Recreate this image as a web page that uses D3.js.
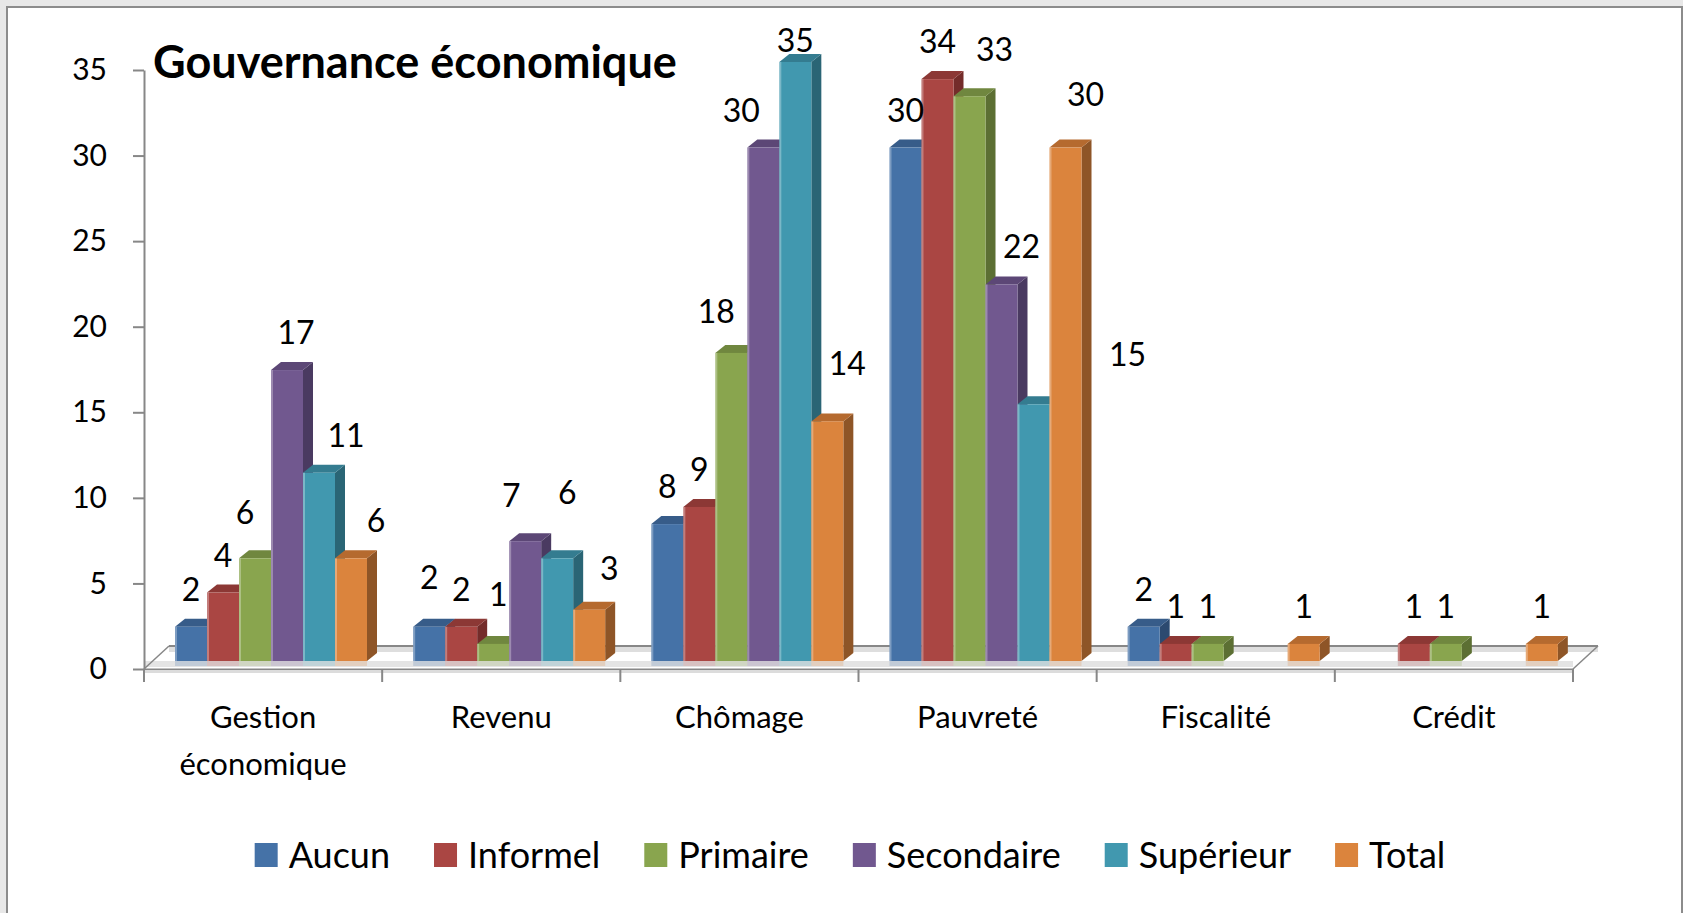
<!DOCTYPE html>
<html>
<head>
<meta charset="utf-8">
<script src="https://cdn.jsdelivr.net/npm/d3@7"></script>
<style>
  html, body { margin: 0; padding: 0; background: #e8e8e8; overflow: hidden; }
  svg { display: block; font-family: Lato, 'Open Sans', sans-serif; }
</style>
</head>
<body>
<div id="chart"></div>
<script>
// --- data ---
const categories = ['Gestion économique', 'Revenu', 'Chômage', 'Pauvreté', 'Fiscalité', 'Crédit'];
const series = ['Aucun', 'Informel', 'Primaire', 'Secondaire', 'Supérieur', 'Total'];
const aucun      = [2, 2, 8, 30, 2, 0];
const informel   = [4, 2, 9, 34, 1, 1];
const primaire   = [6, 1, 18, 33, 1, 1];
const secondaire = [17, 7, 30, 22, 0, 0];
const superieur  = [11, 6, 35, 15, 0, 0];
const total      = [6, 3, 14, 30, 1, 1];
const yTicks = [0, 5, 10, 15, 20, 25, 30, 35];
const chartTitle = 'Gouvernance économique';

const values = [aucun, informel, primaire, secondaire, superieur, total];

// face colours (front, top, side) per series
const frontColors = ['#4572A7', '#AA4643', '#89A54E', '#71588F', '#4198AF', '#DB843D'];
const topColors   = ['#375C89', '#8C3835', '#70873F', '#5C4776', '#347C90', '#B56A2F'];
const sideColors  = ['#2C4A70', '#742C2A', '#5C6F33', '#4A3A61', '#2A6575', '#8E5527'];

// Excel puts the 3D labels a bit off-centre; nudges [dx, dy] in px
const labelNudge = {
  'Gestion économique|Primaire': [-10, -8], 'Gestion économique|Secondaire': [9, 0],
  'Gestion économique|Supérieur': [27, 0], 'Gestion économique|Total': [25, 0],
  'Revenu|Aucun': [0, -12], 'Revenu|Primaire': [5, -12], 'Revenu|Secondaire': [-14, -8],
  'Revenu|Supérieur': [10, -28], 'Revenu|Total': [20, -4],
  'Chômage|Primaire': [-15, -4], 'Chômage|Secondaire': [-22, 0],
  'Chômage|Supérieur': [0, 16], 'Chômage|Total': [20, -20],
  'Pauvreté|Primaire': [25, -9], 'Pauvreté|Secondaire': [20, 0],
  'Pauvreté|Supérieur': [94, -12], 'Pauvreté|Total': [20, -16]
};

const W = 1683, H = 913;
const depth = { dx: 10, dy: 8 };
const axisColor = '#878787';

const svg = d3.select('#chart').append('svg')
  .attr('width', W).attr('height', H);

// frame
svg.append('rect')
  .attr('x', 7).attr('y', 7).attr('width', 1675).attr('height', H + 20)
  .attr('fill', '#fff').attr('stroke', '#8c8c8c').attr('stroke-width', 2);

const y = d3.scaleLinear().domain([0, 35]).range([669, 70]);
const yBar = v => y(v) - 8;

const x0 = d3.scaleBand().domain(categories).range([144, 1573]);
const x1 = d3.scaleBand().domain(series).range([31, 223]);

// floor (drawn behind the bars)
const floor = svg.append('g');
floor.append('rect')
  .attr('x', 144 + 25).attr('y', y(0) - 23).attr('width', 1573 - 144).attr('height', 6)
  .attr('fill', '#dedede');
floor.append('line')
  .attr('x1', 144 + 25).attr('x2', 1573 + 25).attr('y1', y(0) - 23).attr('y2', y(0) - 23)
  .attr('stroke', axisColor).attr('stroke-width', 2);
floor.append('rect')
  .attr('x', 144).attr('y', y(0) - 8).attr('width', 1573 - 144).attr('height', 6)
  .attr('fill', '#e4e4e4');
[144, 1573].forEach(x => {
  floor.append('line')
    .attr('x1', x).attr('y1', y(0)).attr('x2', x + 25).attr('y2', y(0) - 23)
    .attr('stroke', axisColor).attr('stroke-width', 1.5);
});

// bars
const barData = [];
categories.forEach((c, i) => {
  series.forEach((s, j) => {
    barData.push({ cat: c, ser: s, j: j, v: values[j][i] });
  });
});
const bars = svg.append('g').selectAll('g.bar')
  .data(barData.filter(d => d.v > 0))
  .enter().append('g').attr('class', 'bar');

bars.each(function (d) {
  const g = d3.select(this);
  const bx = x0(d.cat) + x1(d.ser);
  const w = x1.bandwidth();
  const top = yBar(d.v), base = yBar(0);
  const { dx, dy } = depth;
  g.append('polygon')
    .attr('points', [[bx + w, top], [bx + w + dx, top - dy], [bx + w + dx, base - dy], [bx + w, base]].join(' '))
    .attr('fill', sideColors[d.j]);
  g.append('polygon')
    .attr('points', [[bx, top], [bx + dx, top - dy], [bx + w + dx, top - dy], [bx + w, top]].join(' '))
    .attr('fill', topColors[d.j]);
  g.append('rect')
    .attr('x', bx).attr('y', top).attr('width', w).attr('height', base - top)
    .attr('fill', frontColors[d.j]);
  g.append('rect')
    .attr('x', bx).attr('y', top).attr('width', 2).attr('height', base - top)
    .attr('fill', '#fff').attr('opacity', 0.3);
  g.append('rect')
    .attr('x', bx).attr('y', base).attr('width', w).attr('height', 5)
    .attr('fill', frontColors[d.j]).attr('opacity', 0.22);
});

// x axis (front edge of the floor)
const xAxisG = svg.append('g')
  .attr('transform', `translate(0,${y(0)})`)
  .call(d3.axisBottom(x0).tickSize(0).tickPadding(37));
xAxisG.select('.domain').attr('stroke', axisColor).attr('stroke-width', 2);
xAxisG.selectAll('text')
  .attr('fill', '#000').style('font-size', '31px').style('font-family', 'Lato, sans-serif')
  .call(wrapLabels, x0.bandwidth() - 20);
svg.append('rect')
  .attr('x', 144).attr('y', y(0) + 1).attr('width', 1573 - 144).attr('height', 3)
  .attr('fill', '#dcdcdc');
svg.append('g').selectAll('line')
  .data(d3.range(categories.length + 1))
  .enter().append('line')
  .attr('x1', i => 144 + i * x0.step()).attr('x2', i => 144 + i * x0.step())
  .attr('y1', y(0)).attr('y2', y(0) + 13)
  .attr('stroke', axisColor).attr('stroke-width', 2);

// y axis
const yAxisG = svg.append('g')
  .attr('transform', 'translate(144,0)')
  .call(d3.axisLeft(y).tickValues(yTicks).tickSize(11).tickSizeOuter(0).tickPadding(26));
yAxisG.select('.domain').attr('stroke', axisColor).attr('stroke-width', 2);
yAxisG.selectAll('.tick line').attr('stroke', axisColor).attr('stroke-width', 2);
yAxisG.selectAll('text')
  .attr('fill', '#000').style('font-size', '30px').style('font-family', 'Lato, sans-serif');

// data labels
svg.append('g').selectAll('text')
  .data(barData.filter(d => d.v > 0))
  .enter().append('text')
  .attr('x', d => x0(d.cat) + x1(d.ser) + x1.bandwidth() / 2 + (labelNudge[d.cat + '|' + d.ser] || [0, 0])[0])
  .attr('y', d => yBar(d.v) - 26 + (labelNudge[d.cat + '|' + d.ser] || [0, 0])[1])
  .attr('text-anchor', 'middle')
  .style('font-size', '32px')
  .text(d => d.v);

// title
svg.append('text')
  .attr('x', 153).attr('y', 78)
  .style('font-size', '45px').style('font-weight', 'bold')
  .text(chartTitle);

// legend
const legend = svg.append('g');
let lx = 0;
series.forEach((s, j) => {
  const item = legend.append('g').attr('transform', `translate(${lx},0)`);
  item.append('rect').attr('x', 0).attr('y', 843).attr('width', 23).attr('height', 24)
    .attr('fill', frontColors[j]);
  const t = item.append('text').attr('x', 34).attr('y', 868)
    .style('font-size', '36px').text(s);
  lx += 34 + t.node().getComputedTextLength() + 44;
});
const legendWidth = lx - 44;
legend.attr('transform', `translate(${850 - legendWidth / 2},0)`);

function wrapLabels(selection, maxWidth) {
  selection.each(function () {
    const text = d3.select(this);
    const words = text.text().split(/\s+/).reverse();
    const dy = parseFloat(text.attr('dy') || '0');
    const yy = text.attr('y');
    let line = [];
    let lineNo = 0;
    let tspan = text.text(null).append('tspan').attr('x', 0).attr('y', yy).attr('dy', dy + 'em');
    let word = words.pop();
    while (word) {
      line.push(word);
      tspan.text(line.join(' '));
      if (tspan.node().getComputedTextLength() > maxWidth && line.length > 1) {
        line.pop();
        tspan.text(line.join(' '));
        line = [word];
        tspan = text.append('tspan').attr('x', 0).attr('y', yy)
          .attr('dy', ++lineNo * 1.52 + dy + 'em').text(word);
      }
      word = words.pop();
    }
  });
}
</script>
</body>
</html>
